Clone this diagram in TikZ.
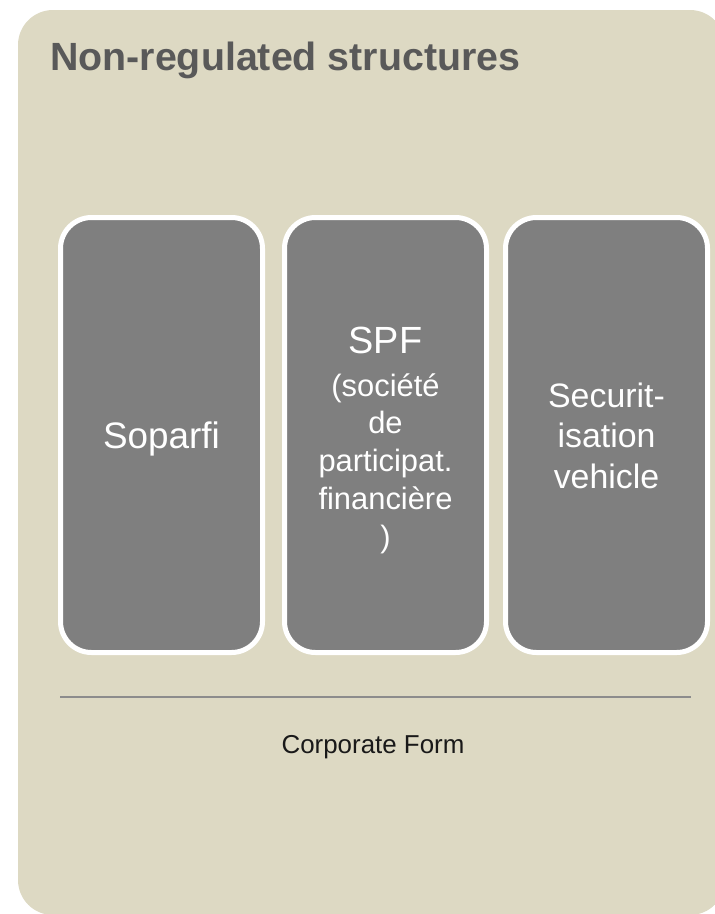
\documentclass[tikz,border=0pt]{standalone}
\usepackage{fontspec}
\setmainfont{Liberation Sans}
\definecolor{panelbg}{HTML}{DDD9C3}
\definecolor{boxfill}{HTML}{7F7F7F}
\definecolor{titlegray}{HTML}{595959}
\definecolor{rulegray}{HTML}{8C8C8C}
\begin{document}
\begin{tikzpicture}[x=1bp,y=-1bp,
  panel/.style={fill=panelbg, rounded corners=35bp},
  vehbox/.style={draw=white, line width=5bp, fill=boxfill, rounded corners=31bp},
  boxtext/.style={text=white, align=center, inner sep=0pt, anchor=base},
  titletext/.style={text=titlegray, font=\fontsize{39.5}{45}\selectfont\bfseries, inner sep=0pt, anchor=base west},
]
\useasboundingbox (0,0) rectangle (715,914);
\clip (0,0) rectangle (715,914);
\fill[panel] (18,10) rectangle (725,915);
\node[titletext] (title) at (50,70.7) {Non-regulated structures};
% boxes
\draw[vehbox] (60.5,217.5) rectangle (262.5,652.5);
\draw[vehbox] (284.5,217.5) rectangle (486.5,652.5);
\draw[vehbox] (505.5,217.5) rectangle (707.5,652.5);
\node[boxtext, font=\fontsize{37}{44}\selectfont] (soparfi) at (161.5,448.5) {Soparfi};
\node[boxtext, font=\fontsize{38}{44}\selectfont] (spf) at (385.5,353) {SPF};
\node[boxtext, font=\fontsize{31}{38}\selectfont] (spfsub) at (385.5,547.5) {(société\\de\\participat.\\financière\\)};
\node[boxtext, font=\fontsize{34}{40.5}\selectfont] (secur) at (606.5,488) {Securit-\\isation\\vehicle};
% rule
\coordinate (rl) at (60,697);
\coordinate (rr) at (691,697);
\draw[rulegray, line width=2bp] (rl) -- (rr);
\node[inner sep=0pt, anchor=base, text=black!90, font=\fontsize{26}{30}\selectfont] (corp) at (373,753) {Corporate Form};
\end{tikzpicture}
\end{document}
